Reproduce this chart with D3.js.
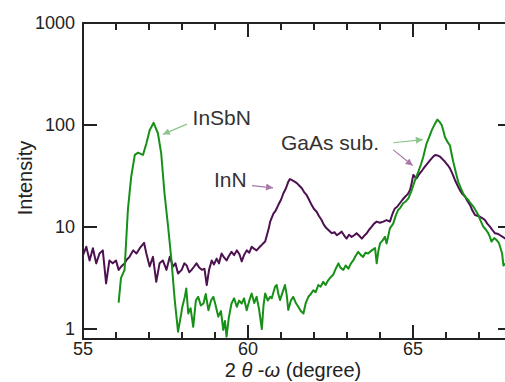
<!DOCTYPE html>
<html>
<head>
<meta charset="utf-8">
<script src="https://cdn.jsdelivr.net/npm/d3@7"></script>
<style>
  body { margin: 0; background: #fff; }
  svg { display: block; font-family: Arial, "Liberation Sans", sans-serif; }
</style>
</head>
<body>
<svg id="chart" width="505" height="382"></svg>
<script>
// InSbN sample (green)
const insbnX = [56.08,56.15,56.26,56.36,56.46,56.57,56.67,56.75,56.82,56.92,57.02,57.14,57.27,57.37,57.47,57.58,57.68,57.78,57.88,57.98,
  58.0,58.09,58.13,58.19,58.26,58.34,58.42,58.49,58.57,58.65,58.72,58.8,58.88,58.95,59.02,59.1,59.18,59.25,59.3,59.35,
  59.42,59.5,59.58,59.66,59.73,59.81,59.88,59.96,60.04,60.11,60.19,60.26,60.33,60.42,60.47,60.52,60.6,60.67,60.72,60.82,
  60.87,60.92,60.97,61.05,61.12,61.17,61.22,61.3,61.37,61.45,61.52,61.6,61.68,61.75,61.83,61.9,61.98,62.05,62.13,62.2,
  62.28,62.35,62.43,62.5,62.58,62.66,62.74,62.8,62.89,62.96,63.04,63.12,63.19,63.26,63.34,63.42,63.49,63.56,63.64,63.75,
  63.85,63.9,63.95,64.0,64.08,64.15,64.2,64.3,64.4,64.48,64.55,64.62,64.7,64.78,64.86,64.94,65.01,65.08,65.16,65.24,
  65.31,65.41,65.49,65.57,65.66,65.74,65.8,65.87,65.92,65.97,66.05,66.12,66.17,66.22,66.3,66.37,66.45,66.52,66.6,66.68,
  66.75,66.83,66.9,66.98,67.05,67.13,67.2,67.28,67.33,67.38,67.46,67.54,67.6,67.64,67.7,67.74,67.85];
const insbnY = [1.81,3.16,3.8,14.7,31,51,53.5,52,51,66,89,105,83,52.6,21.3,10,4.7,1.92,0.94,1.43,
  1.6,2.1,2.5,1.42,1.6,1.05,1.9,2.07,1.7,1.78,2.2,1.53,1.9,2.07,1.7,1.32,1.5,0.98,1.2,0.84,
  1.3,1.78,2.0,1.65,1.9,1.78,2.0,1.53,1.9,2.23,1.8,2.07,1.6,1.0,1.7,2.23,1.9,2.07,2.0,2.6,
  2.7,2.2,1.92,2.3,2.7,2.2,1.54,1.9,2.07,1.8,1.66,1.5,1.42,1.8,2.07,2.2,2.4,2.3,2.7,2.6,
  2.9,2.7,3.0,3.2,3.4,3.9,4.4,4.0,3.8,4.2,3.9,4.4,4.7,5.2,5.7,5.3,5.1,5.6,5.5,5.9,
  6.2,4.4,5.8,6.9,7.4,8.0,6.9,9.7,10.8,13,14.7,15.5,17.1,17.8,19.1,22,25.7,30,34.8,41,
  48.6,65.7,76,89,102,113,108,100,88,76,68,63,52,43.6,34,27.7,24,21.3,19.5,18.3,
  17,15.8,14.5,13.1,11.5,10.1,9.5,8.7,8.0,7.2,7.8,7.4,7.0,6.4,5.5,4.2,4.5];

// InN sample (purple)
const innX = [55.0,55.1,55.2,55.3,55.4,55.5,55.6,55.7,55.8,55.9,56.0,56.08,56.16,56.26,56.33,56.41,56.52,56.62,56.72,56.85,
  56.92,57.02,57.12,57.22,57.32,57.42,57.53,57.63,57.73,57.8,57.88,57.99,58.07,58.14,58.22,58.29,58.37,58.44,58.52,58.6,
  58.68,58.75,58.82,58.9,58.97,59.05,59.12,59.2,59.28,59.35,59.42,59.5,59.58,59.66,59.74,59.81,59.88,59.96,60.04,60.11,
  60.19,60.26,60.36,60.44,60.52,60.58,60.63,60.67,60.77,60.84,60.92,61.0,61.07,61.15,61.22,61.27,61.32,61.4,61.48,61.55,
  61.63,61.7,61.78,61.85,61.93,62.0,62.08,62.15,62.23,62.3,62.38,62.46,62.54,62.62,62.69,62.76,62.84,62.92,62.99,63.06,
  63.14,63.22,63.29,63.37,63.45,63.52,63.6,63.68,63.75,63.82,63.9,64.0,64.1,64.2,64.3,64.38,64.45,64.52,64.6,64.68,
  64.76,64.84,64.91,64.96,65.01,65.06,65.11,65.16,65.21,65.28,65.36,65.44,65.52,65.6,65.67,65.75,65.82,65.9,65.97,66.05,
  66.12,66.2,66.27,66.35,66.42,66.5,66.58,66.65,66.73,66.8,66.88,66.95,67.03,67.1,67.18,67.25,67.33,67.4,67.48,67.56,
  67.64,67.72,67.8,67.9];
const innY = [5.3,6.4,4.7,6.2,4.4,5.5,5.9,2.8,4.7,4.4,4.7,3.8,4.1,4.4,4.8,5.1,5.9,5.5,6.2,7.0,
  5.5,4.1,5.1,2.9,4.4,4.7,3.8,5.1,4.1,4.4,3.5,3.8,4.4,4.2,3.6,3.8,4.1,4.4,4.0,3.8,
  3.9,2.7,3.8,4.7,4.3,4.9,4.4,5.5,5.0,4.7,5.2,5.7,5.3,5.9,5.4,4.6,5.3,5.9,5.6,6.4,
  6.1,5.9,6.4,6.8,7.2,8.5,9.7,11.2,13.5,14.5,16.5,18.5,21.3,24,27.7,29.5,28.9,28,26.9,25.5,
  24.0,22,20.5,18.5,16.4,15,14.1,12.8,11.7,10.5,9.7,9.2,8.7,8.9,8.3,8.6,9.0,8.2,7.7,8.4,
  8.0,8.3,8.7,8.2,7.7,8.2,8.7,9.5,10.1,10.8,11.3,11.0,11.3,11.7,11.3,13.5,15.2,15.8,17.1,18.5,
  19.8,21,23.0,27,32.4,31,30.0,32,33.7,36,39.0,42,45.3,48.5,50.8,50.2,48.9,46,43.6,40.5,
  37.6,33,28.9,25.5,23.0,21,19.8,18,16.4,14.5,13.1,12.9,12.6,12.2,11.7,10.8,10.1,9.4,8.7,8.6,
  8.3,8.0,7.7,7.4];

const xMajor = [55, 60, 65];
const xMinor = [56, 57, 58, 59, 61, 62, 63, 64, 66, 67];
const yTicks = [1, 10, 100, 1000];

// annotation labels and arrows, in data units
const labels = [
  {text: "InSbN", x: 58.32, y: 99},
  {text: "InN", x: 58.97, y: 24.5},
  {text: "GaAs sub.", x: 61.0, y: 57}
];
const arrows = [
  {x1: 58.15, y1: 102, x2: 57.42, y2: 81, color: "#8cc48c"},
  {x1: 60.12, y1: 25.5, x2: 60.76, y2: 24.2, color: "#a878a8"},
  {x1: 64.4, y1: 67, x2: 65.3, y2: 72, color: "#8cc48c"},
  {x1: 64.4, y1: 57, x2: 64.99, y2: 40, color: "#a878a8"}
];

const W = 505, H = 382;
const margin = {left: 83, top: 23, right: -7, bottom: 43};
const x = d3.scaleLinear().domain([55, 68]).range([margin.left, W - margin.right]);
const y = d3.scaleLog().domain([Math.pow(10, -10 / 102), 1000]).range([H - margin.bottom, margin.top]);

const svg = d3.select("#chart");
const x0 = x.range()[0], x1 = x.range()[1], yb = y.range()[0], yt = y.range()[1];

svg.append("defs").append("clipPath").attr("id", "clip")
  .append("rect").attr("x", x0).attr("y", yt).attr("width", x1 - x0).attr("height", yb - yt);

svg.append("defs").selectAll("marker").data(["#8cc48c", "#a878a8"]).enter()
  .append("marker")
  .attr("id", (d, i) => "ah" + i)
  .attr("viewBox", "0 0 10 10").attr("refX", 10).attr("refY", 5)
  .attr("markerWidth", 9).attr("markerHeight", 7).attr("markerUnits", "userSpaceOnUse")
  .attr("orient", "auto")
  .append("path").attr("d", "M0,0L10,5L0,10z").attr("fill", d => d);

const line = d3.line().x(d => x(d[0])).y(d => y(d[1]));

const plot = svg.append("g").attr("clip-path", "url(#clip)");
plot.append("path")
  .datum(d3.zip(innX, innY))
  .attr("d", line).attr("fill", "none")
  .attr("stroke", "#4d1050").attr("stroke-width", 2).attr("stroke-linejoin", "round");
plot.append("path")
  .datum(d3.zip(insbnX, insbnY))
  .attr("d", line).attr("fill", "none")
  .attr("stroke", "#169016").attr("stroke-width", 2).attr("stroke-linejoin", "round");

// frame
svg.append("rect").attr("x", x0).attr("y", yt).attr("width", x1 - x0).attr("height", yb - yt)
  .attr("fill", "none").attr("stroke", "#222").attr("stroke-width", 2);

// x ticks, inward on bottom and top
const ax = svg.append("g").attr("stroke", "#222").attr("stroke-width", 2);
xMajor.concat(xMinor).forEach(v => {
  const len = xMajor.includes(v) ? 14 : 7;
  ax.append("line").attr("x1", x(v)).attr("x2", x(v)).attr("y1", yb).attr("y2", yb - len);
  ax.append("line").attr("x1", x(v)).attr("x2", x(v)).attr("y1", yt).attr("y2", yt + len);
});
yTicks.forEach(v => {
  ax.append("line").attr("x1", x0).attr("x2", x0 + 14).attr("y1", y(v)).attr("y2", y(v));
  ax.append("line").attr("x1", x1).attr("x2", x1 - 14).attr("y1", y(v)).attr("y2", y(v));
});

svg.append("g").selectAll("text").data(xMajor).enter().append("text")
  .attr("x", d => x(d)).attr("y", yb + 16).attr("text-anchor", "middle")
  .attr("font-size", 18).attr("fill", "#222").text(d => d);

svg.append("g").selectAll("text").data(yTicks).enter().append("text")
  .attr("x", x0 - 8).attr("y", d => y(d) + 6).attr("text-anchor", "end")
  .attr("font-size", 18).attr("fill", "#222").text(d => d);

// axis titles
svg.append("text").attr("transform", "translate(32,178) rotate(-90)")
  .attr("text-anchor", "middle").attr("font-size", 20).attr("fill", "#222").text("Intensity");

const xt = svg.append("text").attr("x", 293).attr("y", 377)
  .attr("text-anchor", "middle").attr("font-size", 20).attr("fill", "#222");
xt.append("tspan").text("2 ");
xt.append("tspan").attr("font-style", "italic").text("θ");
xt.append("tspan").text(" -");
xt.append("tspan").attr("font-style", "italic").text("ω");
xt.append("tspan").text(" (degree)");

// annotations
svg.append("g").selectAll("line").data(arrows).enter().append("line")
  .attr("x1", d => x(d.x1)).attr("y1", d => y(d.y1))
  .attr("x2", d => x(d.x2)).attr("y2", d => y(d.y2))
  .attr("stroke", d => d.color).attr("stroke-width", 1.2)
  .attr("marker-end", d => d.color === "#8cc48c" ? "url(#ah0)" : "url(#ah1)");

svg.append("g").selectAll("text").data(labels).enter().append("text")
  .attr("x", d => x(d.x)).attr("y", d => y(d.y))
  .attr("font-size", 21).attr("fill", "#333").text(d => d.text);
</script>
</body>
</html>
